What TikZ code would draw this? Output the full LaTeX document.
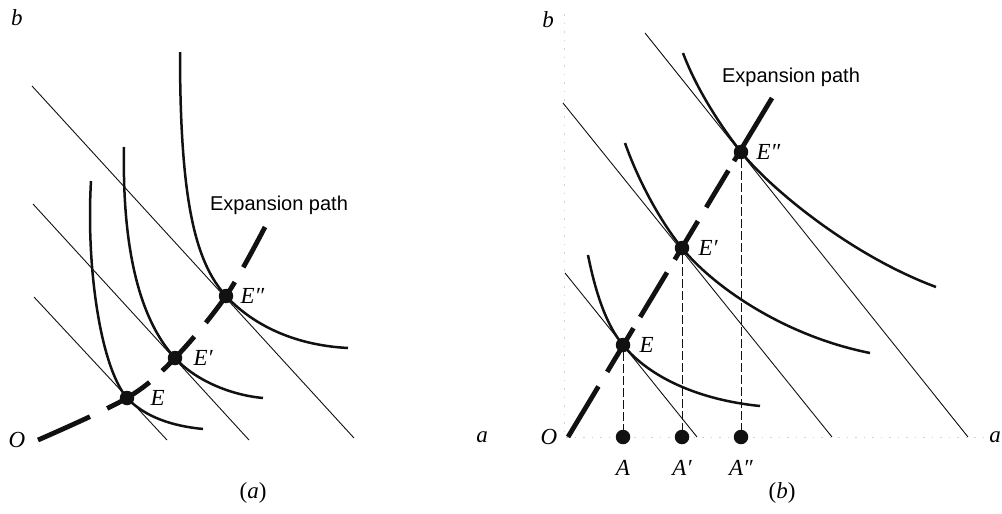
\documentclass[tikz,border=0pt]{standalone}
\usepackage{fontspec}
\setmainfont{Liberation Serif}
\newfontfamily\pathsans{Liberation Sans}
\usepackage{xcolor}
\usetikzlibrary{positioning}
\definecolor{inkdark}{HTML}{111111}
\definecolor{axisfaint}{HTML}{D2D2D2}

\begin{document}
\begin{tikzpicture}[x=1pt, y=-1pt,
  budget/.style={inkdark, line width=0.9pt},
  isoq/.style={inkdark, line width=2.5pt},
  exppath/.style={inkdark, line width=4.8pt},
  tdot/.style={circle, fill=inkdark, inner sep=0pt, minimum size=14.5pt},
  drop/.style={inkdark, line width=0.6pt, dash pattern=on 9pt off 3pt},
  axlbl/.style={font=\fontsize{23}{25}\selectfont\itshape, inner sep=0pt},
  pathlbl/.style={font=\fontsize{20}{22}\selectfont\pathsans, inner sep=0pt}]
\useasboundingbox (0,0) rectangle (1002,514);

% ---- panel (a)
\coordinate (Ea) at (127,398);
\coordinate (Ea1) at (175,358);
\coordinate (Ea2) at (226,296);
\draw[budget] (34,297) -- (167,440);
\draw[budget] (33,204) -- (249,440);
\draw[budget] (32,86) -- (354,438);
\draw[isoq] (91,181) .. controls (86,265) and (100,366) .. (Ea)
  .. controls (145,417) and (172,426) .. (203,429);
\draw[isoq] (124,147) .. controls (122,250) and (140,320) .. (Ea1)
  .. controls (195,380) and (230,395) .. (263,398);
\draw[isoq] (180,52) .. controls (180,200) and (195,262) .. (Ea2)
  .. controls (250,322) and (290,345) .. (348,348);
\draw[exppath, dash pattern=on 57pt off 19pt on 50pt off 17pt on 47pt off 18pt on 50pt off 17pt on 60pt off 40pt]
  plot[smooth, tension=0.55] coordinates {(38,440) (Ea) (Ea1) (Ea2) (265,227)};
\node[tdot] (dotEa) at (Ea) {};
\node[tdot] (dotEa1) at (Ea1) {};
\node[tdot] (dotEa2) at (Ea2) {};
\node[axlbl, right=16pt of dotEa] (lblEa) {E};
\node[axlbl, right=11pt of dotEa1] (lblEa1) {E′};
\node[axlbl, right=7pt of dotEa2] (lblEa2) {E″};
\node[pathlbl] (pathA) at (279,205) {Expansion path};
\node[axlbl] (bA) at (17,18) {b};
\node[axlbl] (oA) at (17,440) {O};
\node[font=\fontsize{23}{25}\selectfont, inner sep=0pt] (capA) at (253,493) {(\textit{a})};

% ---- panel (b)
\coordinate (Ob) at (568,437);
\coordinate (Eb) at (623,345);
\coordinate (Eb1) at (682,248);
\coordinate (Eb2) at (741,152);
\draw[axisfaint, line width=0.7pt, dash pattern=on 1.5pt off 7pt] (564,14) -- (564,437) -- (985,437);
\draw[budget] (565,273) -- (697,437);
\draw[budget] (563,103) -- (832,437);
\draw[budget] (645,33) -- (968,437);
\draw[isoq] (588,255) .. controls (596,295) and (607,326) .. (Eb)
  .. controls (650,378) and (700,400) .. (760,406);
\draw[isoq] (625,143) .. controls (638,180) and (660,221) .. (Eb1)
  .. controls (710,283) and (780,335) .. (870,353);
\draw[isoq] (683,53) .. controls (695,85) and (716,120) .. (Eb2)
  .. controls (770,188) and (850,255) .. (936,287);
\draw[exppath, dash pattern=on 59pt off 17pt on 51pt off 13pt on 52pt off 15pt on 45pt off 16pt on 43pt off 11pt on 80pt off 40pt]
  (Ob) -- (772,98);
\node[tdot] (dotEb) at (Eb) {};
\node[tdot] (dotEb1) at (Eb1) {};
\node[tdot] (dotEb2) at (Eb2) {};
\node[tdot] (dotAb) at (623,437) {};
\node[tdot] (dotAb1) at (682,437) {};
\node[tdot] (dotAb2) at (741,437) {};
\draw[drop] (dotEb) -- (dotAb);
\draw[drop] (dotEb1) -- (dotAb1);
\draw[drop] (dotEb2) -- (dotAb2);
\node[axlbl, right=9pt of dotEb] (lblEb) {E};
\node[axlbl, right=9pt of dotEb1] (lblEb1) {E′};
\node[axlbl, right=8pt of dotEb2] (lblEb2) {E″};
\node[axlbl, below=16pt of dotAb] (lblAb) {A};
\node[axlbl, below=16pt of dotAb1] (lblAb1) {A′};
\node[axlbl, below=16pt of dotAb2] (lblAb2) {A″};
\node[pathlbl] (pathB) at (791,77) {Expansion path};
\node[axlbl] (bB) at (548,20) {b};
\node[axlbl] (oB) at (549,437) {O};
\node[axlbl] (aL) at (482,437) {a};
\node[axlbl] (aR) at (995,437) {a};
\node[font=\fontsize{23}{25}\selectfont, inner sep=0pt] (capB) at (782,493) {(\textit{b})};
\end{tikzpicture}
\end{document}
